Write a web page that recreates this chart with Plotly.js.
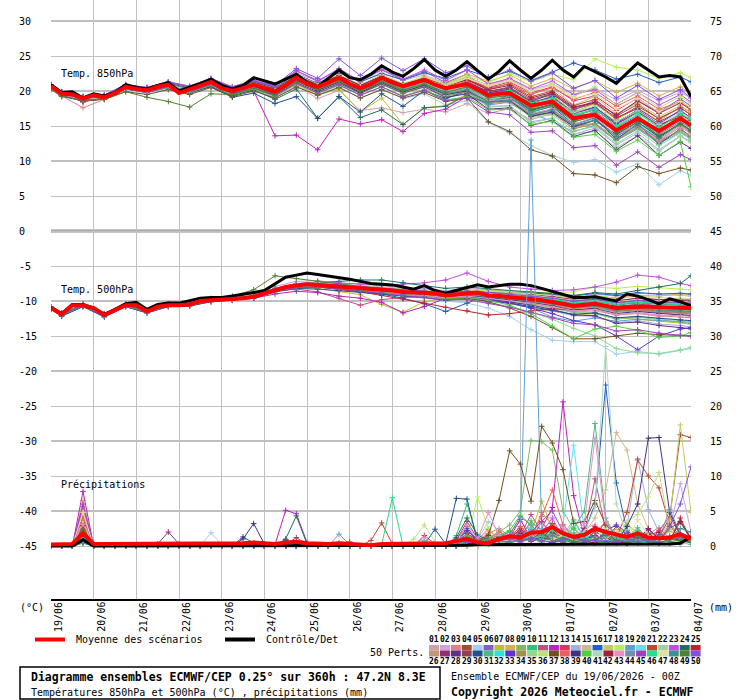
<!DOCTYPE html>
<html><head><meta charset="utf-8">
<script src="https://cdn.plot.ly/plotly-3.0.1.min.js"></script>
<style>html,body{margin:0;padding:0;background:#fff}#chart{width:740px;height:700px}</style>
</head><body><div id="chart"></div>
<script>
// ---------------- DATA ----------------
const dateLabels = ['19/06','20/06','21/06','22/06','23/06','24/06','25/06','26/06','27/06','28/06','29/06','30/06','01/07','02/07','03/07','04/07'];
const dateHours = [0,24,48,72,96,120,144,168,192,216,240,264,288,312,336,360];
const leftTicks = ['-45','-40','-35','-30','-25','-20','-15','-10','-5','0','5','10','15','20','25','30'];
const rightTicks = ['0','5','10','15','20','25','30','35','40','45','50','55','60','65','70','75'];
// member temperature steps (06Z / 18Z) and 6-hourly steps
const tT = [0,6,18,30,42,54,66,78,90,102,114,126,138,150,162,174,186,198,210,222,234,246,258,270,282,294,306,318,330,342,354,360];
const tP = [0,6,12,18,24,30,36,42,48,54,60,66,72,78,84,90,96,102,108,114,120,126,132,138,144,150,156,162,168,174,180,186,192,198,204,210,216,222,228,234,240,246,252,258,264,270,276,282,288,294,300,306,312,318,324,330,336,342,348,354,360];
const memberColors = ['#d4a0a8','#d0a0e0','#e08088','#a05030','#a0d0f0','#8060c0','#c0c020','#d8b050','#80b868','#30c080','#c05080','#c020c0','#e03060','#a0b0e0','#d0b888','#2060c0','#c8c860','#b8f050','#60a0d8','#60e0f0','#c04830','#a0d0a0','#c050e0','#207060','#c02030',
'#c09878','#903070','#603080','#904050','#205090','#50b888','#30e0e0','#6030d0','#a09050','#90d890','#c0e080','#705020','#e86060','#403080','#50d040','#b0d8c0','#a02040','#e890c8','#7090b0','#a040c0','#20e090','#e0e0a0','#409090','#508030','#8050e0'];

const mean850 = [20.7,19.6,19.5,18.9, 19.4,19.1,19.7,20.6, 20.3,20.1,20.6,20.9, 19.7,20.2,20.8,21.3, 20.4,20.0,20.4,20.9, 20.4,19.9,20.8,21.9, 21.0,20.6,21.2,21.9, 21.0,20.4,21.0,21.9, 21.2,20.7,21.1,21.6, 20.9,20.4,20.7,21.0, 20.2,19.4,19.6,19.7, 18.8,17.9,18.2,18.5, 17.3,16.1,16.4,16.6, 15.5,14.4,15.2,16.1, 15.2,14.3,15.2,16.1, 15.1];
const ctrl850 = [20.9,19.8,19.9,19.0, 19.6,19.3,19.8,20.9, 20.5,20.3,20.8,21.2, 20.0,20.5,21.1,21.7, 20.8,20.3,20.8,21.9, 21.4,21.0,21.7,22.4, 21.2,20.6,21.8,23.0, 21.9,21.6,22.4,23.6, 22.7,22.1,23.2,24.5, 23.0,22.1,23.0,24.2, 22.9,21.7,22.8,24.3, 23.0,21.8,23.0,24.4, 23.0,22.0,23.5,22.8, 22.0,21.1,22.5,24.0, 23.0,22.0,22.2,22.0, 19.2];
const mean500 = [-11.0,-11.9,-10.6,-10.6, -11.0,-12.0,-11.3,-10.6, -10.6,-11.5,-10.8,-10.6, -10.6,-10.5,-10.0,-9.9, -9.9,-9.7,-9.6,-9.4, -8.9,-8.4,-8.0,-7.8, -7.6,-7.7,-7.8,-7.9, -8.0,-8.2,-8.3,-8.4, -8.5,-8.7,-8.8,-8.8, -8.9,-9.2,-9.0,-8.9, -8.8,-9.2,-9.3,-9.4, -9.5,-9.7,-9.9,-10.1, -10.4,-10.7,-10.5,-10.4, -10.7,-11.0,-10.9,-10.8, -10.8,-10.9,-10.9,-11.0, -11.0];
const ctrl500 = [-10.9,-11.8,-10.5,-10.5, -11.0,-11.9,-11.2,-10.4, -10.2,-11.2,-10.5,-10.3, -10.3,-10.0,-9.6,-9.5, -9.5,-9.3,-9.1,-8.8, -8.5,-7.5,-6.6,-6.3, -6.0,-6.2,-6.4,-6.6, -6.9,-7.2,-7.5,-7.6, -7.7,-8.0,-8.3,-7.8, -8.5,-8.9,-8.5,-8.0, -7.7,-8.0,-7.8,-7.6, -7.6,-7.8,-8.2,-8.6, -9.1,-9.5,-9.5,-9.4, -9.7,-10.0,-9.0,-9.3, -9.8,-10.4,-9.7,-10.1, -10.7];
const meanPr = [0.2,0.2,0.3,1.8, 0.3,0.3,0.3,0.3, 0.3,0.3,0.3,0.4, 0.3,0.3,0.3,0.4, 0.3,0.3,0.4,0.5, 0.4,0.3,0.5,0.6, 0.4,0.3,0.3,0.4, 0.3,0.2,0.1,0.3, 0.3,0.3,0.3,0.4, 0.4,0.4,0.7,1.0, 0.5,0.4,1.0,1.4, 1.2,1.9,2.0,2.7, 1.8,1.3,1.6,2.5, 2.0,1.6,1.3,1.8, 1.2,1.1,1.2,1.7, 1.0];
const ctrlPr = [0,0,0,0.9, 0,0,0,0, 0,0,0,0, 0,0,0,0, 0,0,0,0, 0,0,0,0, 0.1,0.1,0.1,0.1, 0.1,0.1,0.1,0.1, 0.1,0.1,0.1,0.1, 0.1,0.1,0.1,0.1, 0.2,0.2,0.2,0.2, 0.2,0.2,0.2,0.2, 0.2,0.2,0.2,0.2, 0.2,0.2,0.2,0.2, 0.2,0.2,0.3,0.4, 1.3];

const t850 = [
[20.8,19.5,18.7,19.0,20.4,19.9,20.6,19.8,20.9,19.4,20.3, 19.0,20.8,18.9,20.1,17.2,17.6,16.9,17.4,17.0,18.2, 16.8,17.5,15.9,16.8,14.6,15.9,13.2,15.0,12.8,14.9,14.0],
[20.9,19.8,19.1,19.4,20.9,20.5,21.3,20.7,21.8,20.6,21.6, 20.8,22.6,21.4,22.7,21.3,22.6,21.5,22.3,21.1,21.9, 20.9,21.6,20.2,21.0,19.5,20.4,18.7,20.1,18.6,19.8,19.0],
[20.5,19.3,17.6,18.8,20.2,19.8,20.7,20.0,21.0,19.8,20.8, 19.6,21.5,20.2,21.4,19.9,21.2,20.0,20.8,19.5,20.1, 18.6,18.3,16.4,17.0,14.9,15.3,13.0,14.6,12.9,14.2,13.4],
[20.6,19.7,18.4,19.2,20.7,20.2,21.0,20.3,21.4,20.1,21.1, 20.0,22.1,20.7,22.0,20.6,22.1,20.9,21.8,20.6,21.3, 19.9,20.5,18.8,19.6,17.4,18.2,16.0,17.8,16.1,17.6,16.6],
[20.4,19.2,18.6,18.8,20.1,19.7,20.4,19.6,20.8,19.3,20.2, 19.0,20.7,19.5,20.6,19.0,20.3,18.9,19.6,18.0,18.6, 15.5,14.0,12.2,10.8,9.8,10.2,8.4,9.6,6.6,8.6,8.0],
[20.7,19.9,19.0,19.3,20.8,20.4,21.2,20.6,21.7,20.5,21.5, 20.6,22.9,21.4,23.2,21.4,23.0,21.6,22.8,21.2,22.4, 19.9,20.6,18.4,19.8,17.2,18.7,16.5,18.6,17.0,18.9,17.8],
[20.6,19.5,18.8,19.0,20.5,20.0,20.8,20.0,21.1,19.8,20.6, 19.3,21.0,19.4,20.3,17.0,19.0,15.2,17.6,17.9,19.6, 18.8,19.9,18.1,19.4,17.0,18.2,15.9,17.6,15.7,17.8,16.9],
[20.8,19.7,19.0,19.2,20.6,20.2,21.0,20.4,21.5,20.3,21.2, 20.2,22.2,21.0,22.3,20.9,22.2,21.0,21.9,21.0,22.4, 21.4,22.3,20.7,21.8,20.3,21.5,19.8,21.1,19.3,20.6,19.6],
[20.7,19.6,18.9,19.1,20.5,20.0,20.8,20.1,21.2,19.9,20.7, 19.7,21.6,20.3,21.5,20.0,21.4,20.2,21.0,19.7,20.2, 18.3,18.6,16.5,17.2,15.0,15.4,13.3,14.8,12.6,14.4,12.9],
[20.6,19.5,18.8,19.0,20.6,20.2,21.0,20.3,21.4,20.2,21.1, 20.1,22.0,20.8,22.1,20.7,22.0,20.8,21.7,20.5,21.2, 19.6,20.2,17.7,18.9,16.2,17.5,15.2,17.0,14.9,16.6,15.8],
[20.8,19.7,19.0,19.2,20.7,20.3,21.1,20.4,21.5,20.1,21.0, 20.0,21.9,20.4,21.7,20.2,21.6,20.4,21.3,20.2,20.9, 19.1,19.3,17.3,18.1,15.8,16.7,14.2,16.2,13.8,15.6,14.7],
[20.6,19.4,18.5,18.9,20.3,19.8,20.6,19.8,20.9,19.7,20.0, 13.6,13.7,11.6,16.0,15.3,15.9,14.2,16.8,17.4,19.2, 18.1,19.0,17.3,18.2,16.0,17.1,14.8,16.5,14.2,16.0,15.3],
[20.9,19.8,19.2,19.3,20.8,20.4,21.2,20.5,21.6,20.4,21.3, 20.3,22.3,20.9,22.2,20.6,22.1,20.8,21.8,20.7,21.7, 20.5,21.3,19.7,20.6,18.6,19.3,17.2,19.0,16.9,18.6,17.5],
[20.5,19.4,18.7,19.0,20.4,19.9,20.7,20.0,21.0,19.8,20.6, 19.7,21.5,20.2,21.3,19.8,21.1,19.8,20.6,19.3,19.8, 17.8,17.9,15.6,16.1,13.8,14.7,12.3,14.0,11.6,13.6,12.8],
[20.7,19.6,18.9,19.2,20.6,20.1,20.9,20.2,21.3,20.0,20.9, 19.9,21.8,20.6,21.9,20.5,22.0,20.9,22.0,21.0,22.0, 20.6,21.9,19.6,20.4,18.0,19.2,16.7,18.3,16.3,17.9,17.0],
[20.9,19.9,19.2,19.4,20.9,20.5,21.3,20.6,21.7,20.5,21.4, 20.5,22.4,21.1,22.6,21.3,22.5,21.6,22.6,21.8,23.0, 22.0,22.8,21.5,22.7,24.0,23.0,21.7,22.4,21.2,22.0,21.3],
[20.6,19.5,18.8,19.1,20.5,20.0,20.8,20.2,21.2,20.0,20.9, 19.8,21.7,20.5,21.6,20.2,21.5,20.4,21.2,20.0,20.6, 19.0,19.5,17.6,18.3,16.3,17.0,14.7,16.4,14.5,16.5,15.6],
[20.8,19.7,19.0,19.3,20.7,20.3,21.1,20.5,21.5,20.3,21.2, 20.2,22.1,20.9,22.2,20.8,22.3,21.0,22.1,20.9,22.1, 21.2,22.5,21.3,22.4,21.6,24.6,23.4,23.0,21.8,22.6,21.9],
[20.6,19.5,18.8,19.0,20.4,19.9,20.7,20.0,21.0,19.7,20.6, 19.6,21.4,20.1,21.3,19.9,21.2,19.8,20.8,19.3,19.9, 18.0,18.4,16.9,15.6,14.2,15.1,12.9,14.6,12.5,14.1,13.2],
[20.7,19.6,18.9,19.1,20.6,20.1,20.9,20.2,21.3,20.0,20.9, 19.9,21.8,20.4,21.7,20.3,21.6,20.4,21.2,19.9,20.5, 18.9,19.1,16.9,17.8,15.3,16.0,13.6,15.4,13.3,15.6,14.4],
[20.8,19.7,19.1,19.3,20.8,20.4,21.2,20.5,21.6,20.4,21.3, 20.3,22.3,20.9,22.2,20.8,22.2,21.0,21.9,20.8,21.6, 20.4,21.0,19.2,20.0,17.9,18.8,16.4,18.1,16.0,17.6,16.6],
[20.5,19.4,18.7,19.0,20.3,19.8,20.6,19.9,20.9,19.6,20.4, 19.4,21.2,19.9,21.0,19.6,20.9,19.6,20.5,19.0,19.7, 17.7,17.9,15.4,16.1,13.9,14.2,11.9,13.6,11.4,13.5,12.6],
[20.9,19.8,19.2,19.4,20.9,20.5,21.3,20.7,21.8,20.6,21.5, 20.7,22.9,21.5,23.0,21.4,23.1,21.7,23.0,21.5,23.0, 21.0,21.8,20.3,21.4,19.5,20.2,18.1,19.8,18.0,19.5,18.4],
[20.6,19.5,18.7,19.0,20.3,19.8,20.5,19.7,20.7,19.3,20.2, 18.8,20.3,16.1,19.2,16.2,17.3,15.2,17.6,17.8,19.4, 18.2,19.5,17.2,18.0,15.9,16.7,14.0,15.9,13.6,15.2,14.1],
[20.7,19.6,19.0,19.2,20.7,20.3,21.1,20.4,21.5,20.2,21.2, 20.1,22.1,20.8,22.1,20.6,21.9,20.6,21.5,20.3,20.9, 19.3,19.8,17.9,18.6,16.5,17.3,15.3,17.0,15.2,16.3,15.2],
[20.6,19.5,18.8,19.1,20.5,20.0,20.8,20.1,21.2,19.9,20.8, 19.8,21.6,20.3,21.5,20.1,21.5,20.3,21.1,19.8,20.4, 18.6,18.9,16.8,17.4,15.0,15.9,13.7,15.3,13.0,15.1,14.2],
[20.8,19.7,19.0,19.2,20.7,20.2,21.0,20.3,21.4,20.1,21.0, 20.0,21.9,20.6,21.8,20.4,21.7,20.5,21.4,20.2,21.1, 19.7,20.3,18.6,19.5,17.6,18.3,16.2,17.5,15.6,17.1,16.2],
[20.5,19.4,18.6,18.9,20.3,19.8,20.6,19.9,20.9,19.6,20.4, 19.4,21.2,19.9,21.1,19.7,21.0,19.7,20.6,19.1,19.6, 17.4,17.6,15.1,15.8,13.5,14.4,11.6,13.6,10.8,12.7,11.8],
[20.7,19.6,18.9,19.1,20.6,20.1,20.9,20.2,21.3,20.0,20.9, 19.9,21.8,20.5,21.8,20.4,21.8,20.7,21.5,20.3,21.2, 20.0,20.4,18.4,19.1,16.8,17.6,15.6,17.2,15.0,16.7,15.8],
[20.8,19.7,19.1,19.3,20.7,20.0,20.7,19.8,20.6,19.1,19.7, 18.2,19.2,16.1,19.2,17.0,19.6,17.8,20.1,18.9,20.0, 18.5,19.1,17.0,17.8,15.2,16.2,13.1,15.3,12.4,14.6,13.5],
[20.6,19.5,18.9,19.1,20.6,20.1,20.9,20.2,21.2,20.0,20.9, 19.8,21.7,20.3,21.6,20.2,21.5,20.3,21.1,19.8,20.4, 18.7,19.2,17.0,17.9,15.6,16.5,14.1,15.8,13.9,15.9,15.0],
[20.7,19.6,19.0,19.2,20.7,20.2,21.0,20.3,21.4,20.1,21.0, 20.0,21.9,20.6,21.9,20.5,21.9,20.6,21.6,20.4,21.2, 19.5,19.9,17.8,18.7,16.4,17.4,15.0,16.6,14.4,16.2,15.3],
[20.8,19.8,19.1,19.3,20.8,20.3,21.1,20.4,21.5,20.3,21.2, 20.2,22.2,20.9,22.2,20.7,22.0,20.7,21.7,20.4,21.3, 19.8,20.1,18.2,19.2,16.9,17.7,15.4,17.3,15.3,17.3,16.1],
[20.5,19.4,18.7,19.0,20.4,19.9,20.7,20.0,21.0,19.8,20.6, 19.6,21.4,20.1,21.2,19.8,21.1,19.8,20.7,19.3,19.9, 18.2,18.5,16.3,16.9,14.6,15.3,13.0,14.8,12.7,14.5,13.5],
[20.6,19.5,18.8,19.0,20.5,20.0,20.8,20.1,21.2,19.9,20.7, 19.7,21.6,20.2,21.4,19.9,21.2,19.9,20.8,19.4,20.0, 18.4,18.5,16.2,16.6,14.3,14.9,12.5,14.3,12.2,14.0,13.1],
[20.8,19.7,19.0,19.3,20.8,20.3,21.1,20.5,21.6,20.4,21.3, 20.3,22.3,21.0,22.3,20.9,22.3,21.1,22.0,20.9,21.8, 20.7,21.4,19.9,21.0,19.2,20.6,18.0,19.9,17.6,19.2,18.2],
[20.4,19.3,18.6,18.8,19.9,19.5,20.2,19.5,20.5,19.2,20.0, 19.0,20.6,19.4,20.5,19.0,20.2,19.0,19.8,18.5,19.0, 15.6,14.2,11.6,10.7,8.2,8.0,6.9,9.2,8.2,9.0,8.7],
[20.7,19.6,18.9,19.2,20.6,20.1,20.9,20.2,21.3,20.1,21.0, 20.0,21.9,20.5,21.8,20.4,21.8,20.6,21.5,20.5,21.4, 20.2,21.1,19.5,20.5,18.8,19.8,17.8,19.3,17.4,18.4,17.5],
[20.6,19.5,18.8,19.0,20.4,19.9,20.7,20.0,21.1,19.8,20.7, 19.6,21.5,20.1,21.3,19.8,21.2,19.9,20.8,19.5,20.0, 18.5,18.6,16.4,17.0,14.9,15.8,13.8,15.6,13.4,15.4,14.3],
[20.5,19.4,18.7,18.9,20.3,19.8,20.5,19.8,20.8,19.5,20.3, 19.2,21.0,19.7,20.8,19.4,20.6,19.3,20.2,18.7,19.2, 17.3,17.4,15.2,15.7,13.4,13.8,11.4,13.0,10.8,12.8,6.3],
[20.7,19.6,18.9,19.1,20.6,20.1,20.9,20.2,21.2,20.0,20.9, 19.9,21.8,20.5,21.7,20.3,21.7,20.5,21.4,20.2,21.0, 19.4,19.8,18.0,18.9,16.9,17.9,15.6,17.2,15.2,17.0,16.1],
[20.8,19.7,19.0,19.3,20.7,20.3,21.1,20.4,21.5,20.3,21.3, 20.3,22.2,20.9,22.2,20.8,22.1,20.9,21.8,20.7,21.6, 20.2,20.8,19.0,19.8,17.7,18.4,16.6,18.6,16.8,18.3,17.3],
[20.6,19.5,18.8,19.1,20.5,20.0,20.8,20.1,21.2,20.0,20.8, 19.8,21.7,20.3,21.5,20.1,21.4,20.2,21.0,19.7,20.3, 18.6,18.9,16.6,17.5,15.2,16.3,13.6,15.1,12.9,14.8,13.9],
[20.7,19.6,18.9,19.1,20.6,20.1,20.9,20.2,21.3,20.0,20.9, 19.9,21.8,20.5,21.8,20.4,21.7,20.5,21.4,20.1,20.8, 19.2,19.6,17.5,18.4,16.1,16.9,14.5,16.3,14.0,16.0,15.1],
[20.5,19.4,18.6,18.9,20.3,19.8,20.6,19.9,20.9,19.6,20.4, 19.3,21.1,19.7,20.9,19.4,20.6,19.2,20.1,18.6,19.0, 17.0,16.6,14.1,14.3,11.9,12.2,9.4,11.3,9.1,10.9,10.2],
[20.8,19.7,19.0,19.2,20.7,20.2,21.0,20.3,21.4,20.2,21.1, 20.1,22.0,20.7,21.9,20.5,21.9,20.6,21.6,20.3,21.0, 19.6,20.1,18.3,19.0,16.6,17.4,15.0,16.9,14.7,16.8,15.9],
[20.6,19.5,18.9,19.1,20.6,20.1,20.9,20.2,21.3,20.1,21.0, 20.0,22.0,20.7,22.0,20.6,21.9,20.7,21.7,20.7,21.8, 20.8,21.5,20.0,20.8,19.0,19.6,17.4,18.9,17.0,18.5,17.6],
[20.7,19.6,18.9,19.2,20.7,20.2,21.0,20.3,21.3,20.1,21.0, 19.9,21.8,20.4,21.6,20.1,21.4,20.2,21.0,19.6,20.2, 18.4,18.7,16.6,17.3,15.1,15.8,13.5,15.1,13.2,15.3,14.4],
[20.2,19.2,18.7,18.8,19.9,19.1,18.5,17.7,19.6,19.5,20.4, 19.5,21.4,20.2,21.4,20.0,21.3,20.1,21.0,19.8,20.6, 19.0,19.4,17.4,18.0,15.6,16.4,14.0,15.5,13.6,15.3,14.4],
[20.9,19.8,19.1,19.4,20.9,20.4,21.2,20.6,21.6,20.5,21.4, 20.8,23.2,21.8,24.6,22.2,24.7,22.9,24.6,22.6,23.6, 21.8,23.0,21.4,22.6,20.4,21.5,19.0,20.8,18.8,20.2,19.0]
];

const t500 = [
[-11.0,-11.8,-10.5,-11.9,-10.5,-11.4,-10.5,-10.4,-9.8,-9.6,-9.2, -8.2,-7.9,-8.0,-8.3,-8.6,-8.9,-9.2,-9.4,-9.6,-9.4, -9.8,-10.1,-10.5,-11.0,-11.6,-11.4,-12.0,-11.8,-12.2,-12.0,-12.1],
[-11.0,-11.9,-10.4,-11.8,-10.4,-11.3,-10.4,-10.3,-9.6,-9.4,-9.0, -7.9,-7.2,-7.1,-7.4,-7.6,-7.8,-8.0,-8.2,-8.5,-8.2, -8.4,-8.5,-8.8,-9.1,-9.6,-9.0,-9.3,-8.9,-9.1,-9.2,-9.3],
[-11.1,-12.0,-10.7,-12.1,-10.7,-11.6,-10.7,-10.6,-10.0,-9.8,-9.5, -8.6,-8.0,-7.9,-8.1,-8.4,-8.6,-8.9,-9.1,-9.5,-9.3, -9.7,-10.0,-10.4,-10.9,-11.5,-11.2,-12.0,-11.7,-12.1,-12.3,-12.4],
[-10.9,-11.8,-10.6,-11.9,-10.6,-11.4,-10.6,-10.5,-9.9,-9.7,-9.4, -8.4,-7.8,-7.6,-7.8,-8.0,-8.2,-8.5,-8.6,-9.0,-8.7, -9.0,-9.2,-9.5,-9.8,-10.2,-9.9,-10.4,-10.1,-10.2,-10.3,-10.4],
[-11.0,-11.9,-10.6,-12.0,-10.6,-11.5,-10.6,-10.5,-9.9,-9.8,-9.5, -8.6,-8.1,-8.0,-8.3,-8.6,-8.9,-9.3,-9.6,-10.0,-10.3, -11.0,-12.2,-14.1,-15.6,-15.8,-15.8,-17.6,-17.2,-17.6,-17.0,-16.8],
[-11.0,-11.9,-10.5,-11.9,-10.5,-11.4,-10.5,-10.4,-9.8,-9.6,-9.3, -8.3,-7.6,-7.4,-7.6,-7.9,-8.1,-8.3,-8.4,-8.7,-8.5, -8.6,-8.8,-9.0,-9.4,-9.8,-9.5,-10.0,-9.6,-9.8,-9.7,-9.8],
[-11.1,-12.0,-10.7,-12.1,-10.7,-11.6,-10.7,-10.6,-10.0,-9.8,-9.5, -8.5,-8.0,-8.2,-8.6,-9.1,-10.5,-11.6,-10.1,-9.6,-9.6, -9.9,-10.4,-10.9,-11.4,-12.0,-11.8,-12.4,-12.6,-12.9,-13.1,-13.3],
[-10.9,-11.8,-10.5,-11.9,-10.5,-11.4,-10.5,-10.4,-9.8,-9.6,-9.3, -8.2,-7.6,-7.5,-7.8,-8.1,-8.3,-8.5,-8.6,-8.8,-8.4, -8.5,-8.6,-8.9,-9.2,-9.6,-9.2,-9.6,-9.2,-9.3,-9.0,-9.1],
[-11.0,-11.9,-10.6,-12.0,-10.6,-11.5,-10.6,-10.5,-9.9,-9.7,-9.4, -8.5,-7.9,-7.8,-8.0,-8.3,-8.5,-8.8,-8.9,-9.3,-9.1, -9.5,-9.8,-10.3,-10.9,-11.6,-11.8,-12.6,-12.3,-12.7,-13.0,-13.2],
[-11.0,-11.9,-10.6,-12.0,-10.6,-11.5,-10.6,-10.5,-9.9,-9.7,-9.4, -8.4,-7.7,-7.6,-7.8,-8.1,-8.3,-8.6,-8.7,-9.1,-8.9, -9.1,-9.3,-9.5,-9.9,-10.4,-10.0,-10.6,-10.3,-10.5,-10.6,-10.7],
[-11.0,-11.9,-10.6,-12.0,-10.6,-11.5,-10.6,-10.5,-9.9,-9.7,-9.4, -8.6,-8.3,-8.7,-9.6,-10.6,-9.8,-9.5,-9.4,-9.6,-9.4, -9.7,-9.9,-10.2,-10.6,-11.1,-10.8,-11.5,-11.3,-11.6,-11.7,-11.8],
[-11.0,-11.9,-10.6,-12.0,-10.6,-11.5,-10.6,-10.5,-9.9,-9.8,-9.6, -9.0,-8.6,-8.8,-9.3,-9.6,-10.2,-11.7,-10.8,-9.6,-9.0, -9.3,-9.5,-9.8,-10.1,-10.6,-10.3,-10.8,-10.5,-10.7,-10.9,-11.0],
[-10.9,-11.8,-10.5,-11.9,-10.5,-11.4,-10.5,-10.4,-9.8,-9.6,-9.3, -8.3,-7.7,-7.5,-7.7,-8.0,-8.2,-8.4,-8.6,-8.9,-8.6, -8.8,-9.0,-9.3,-9.6,-10.0,-9.7,-10.2,-9.9,-10.0,-10.1,-10.2],
[-11.1,-12.0,-10.7,-12.1,-10.7,-11.6,-10.7,-10.6,-10.0,-9.9,-9.6, -8.7,-8.1,-8.0,-8.2,-8.5,-8.7,-9.0,-9.2,-9.6,-9.5, -9.9,-10.3,-10.8,-11.4,-12.1,-12.2,-13.1,-12.8,-13.3,-13.5,-13.7],
[-11.0,-11.9,-10.6,-12.0,-10.6,-11.5,-10.6,-10.5,-9.9,-9.7,-9.4, -8.4,-7.8,-7.7,-7.9,-8.2,-8.4,-8.6,-8.7,-9.0,-8.7, -8.9,-9.0,-9.2,-9.5,-9.9,-9.6,-10.1,-9.8,-9.9,-10.0,-10.1],
[-11.2,-12.2,-10.8,-12.3,-10.8,-11.7,-10.8,-10.7,-10.1,-9.9,-9.6, -8.6,-8.0,-7.9,-8.2,-8.6,-9.0,-9.6,-10.4,-11.5,-10.3, -9.2,-8.6,-8.8,-9.0,-9.3,-8.9,-9.2,-8.8,-9.0,-8.9,-9.0],
[-11.0,-11.9,-10.6,-12.0,-10.6,-11.5,-10.6,-10.5,-9.9,-9.7,-9.4, -8.4,-7.8,-7.7,-7.9,-8.2,-8.4,-8.7,-8.8,-9.2,-8.9, -9.2,-9.4,-9.7,-10.1,-10.7,-10.4,-11.0,-10.8,-11.0,-11.1,-11.2],
[-10.9,-11.8,-10.5,-11.9,-10.5,-11.4,-10.5,-10.4,-9.8,-9.6,-9.3, -8.3,-7.7,-7.6,-7.8,-8.1,-8.3,-8.5,-8.6,-8.8,-8.5, -8.6,-8.6,-8.7,-8.8,-8.7,-8.0,-8.2,-7.9,-8.1,-8.3,-8.4],
[-11.0,-11.9,-10.6,-12.0,-10.6,-11.5,-10.6,-10.5,-9.9,-9.7,-9.4, -8.5,-7.9,-7.8,-8.0,-8.3,-8.6,-8.9,-9.1,-9.5,-9.4, -9.8,-10.2,-11.0,-12.3,-12.9,-12.4,-12.9,-12.6,-12.8,-12.9,-13.0],
[-11.0,-11.9,-10.6,-12.0,-10.6,-11.5,-10.6,-10.5,-9.9,-9.7,-9.4, -8.4,-7.8,-7.7,-7.9,-8.2,-8.4,-8.7,-8.8,-9.2,-8.9, -9.3,-9.5,-9.9,-10.3,-10.9,-10.6,-11.9,-11.2,-11.4,-11.6,-11.7],
[-10.9,-11.8,-10.5,-11.9,-10.5,-11.4,-10.5,-10.4,-9.8,-9.6,-9.3, -8.3,-7.7,-7.6,-7.8,-8.1,-8.3,-8.5,-8.7,-9.0,-8.7, -8.9,-9.1,-9.3,-9.6,-10.1,-9.8,-10.3,-10.0,-10.2,-10.3,-10.4],
[-11.1,-12.0,-10.7,-12.1,-10.7,-11.6,-10.7,-10.6,-10.0,-9.8,-9.5, -8.6,-8.0,-7.9,-8.1,-8.4,-8.6,-8.9,-9.1,-9.5,-9.3, -9.7,-10.0,-10.5,-11.0,-11.7,-11.6,-12.5,-12.2,-12.6,-12.8,-12.9],
[-10.9,-11.8,-10.5,-11.9,-10.5,-11.4,-10.5,-10.4,-9.8,-9.6,-9.3, -8.2,-7.5,-7.3,-7.4,-7.6,-7.7,-7.6,-7.4,-7.0,-6.0, -7.2,-8.0,-8.3,-8.5,-8.4,-8.0,-7.3,-6.3,-6.6,-7.5,-7.8],
[-11.0,-11.9,-10.6,-12.0,-10.6,-11.5,-10.6,-10.5,-9.9,-9.7,-9.3, -8.2,-7.6,-7.4,-7.2,-7.0,-7.0,-7.4,-7.8,-8.2,-8.0, -8.3,-8.5,-8.7,-8.9,-9.2,-8.8,-9.0,-8.5,-8.0,-7.5,-6.4],
[-11.0,-11.9,-10.6,-12.0,-10.6,-11.5,-10.6,-10.5,-9.9,-9.7,-9.4, -8.5,-8.0,-8.0,-8.3,-8.7,-9.2,-9.7,-10.3,-10.9,-11.4, -12.0,-11.8,-11.4,-11.1,-11.3,-11.0,-11.4,-11.2,-11.4,-11.6,-11.5],
[-11.0,-11.9,-10.6,-12.0,-10.6,-11.5,-10.6,-10.5,-9.9,-9.7,-9.4, -8.5,-7.9,-7.8,-8.0,-8.3,-8.5,-8.8,-8.9,-9.3,-9.1, -9.4,-9.7,-10.1,-10.5,-11.1,-10.9,-11.6,-11.4,-11.7,-11.9,-12.0],
[-10.9,-11.8,-10.5,-11.9,-10.5,-11.4,-10.5,-10.4,-9.8,-9.6,-9.3, -8.3,-7.7,-7.6,-7.8,-8.1,-8.3,-8.5,-8.7,-9.0,-8.7, -9.0,-9.2,-9.5,-9.8,-10.3,-10.0,-10.5,-10.2,-10.4,-10.5,-10.6],
[-11.1,-12.0,-10.7,-12.1,-10.7,-11.6,-10.7,-10.6,-10.0,-9.8,-9.5, -8.6,-8.0,-7.9,-8.1,-8.4,-8.6,-8.9,-9.1,-9.5,-9.3, -9.7,-10.1,-10.6,-11.2,-12.0,-12.1,-13.2,-13.0,-13.5,-13.8,-14.0],
[-11.0,-11.9,-10.6,-12.0,-10.6,-11.5,-10.6,-10.5,-9.9,-9.7,-9.4, -8.4,-7.8,-7.7,-7.9,-8.2,-8.4,-8.6,-8.8,-9.1,-8.8, -9.1,-9.3,-9.6,-10.0,-10.5,-10.2,-10.8,-10.5,-10.7,-10.9,-11.0],
[-11.1,-12.1,-10.8,-12.2,-10.8,-11.7,-10.8,-10.7,-10.1,-9.9,-9.6, -8.7,-8.2,-8.3,-8.5,-8.8,-9.0,-9.3,-9.5,-9.9,-9.7, -10.0,-10.3,-10.8,-11.3,-11.9,-11.7,-12.4,-12.2,-12.5,-12.7,-12.8],
[-11.0,-11.9,-10.6,-12.0,-10.6,-11.5,-10.6,-10.5,-9.9,-9.7,-9.4, -8.4,-7.8,-7.7,-7.9,-8.2,-8.4,-8.7,-8.8,-9.2,-8.9, -9.2,-9.4,-9.7,-10.1,-10.6,-10.3,-10.9,-10.6,-10.8,-10.9,-11.0],
[-10.9,-11.8,-10.5,-11.9,-10.5,-11.4,-10.5,-10.4,-9.8,-9.6,-9.3, -8.3,-7.6,-7.5,-7.7,-8.0,-8.2,-8.4,-8.6,-8.9,-8.6, -8.9,-9.1,-9.4,-9.7,-10.2,-9.9,-10.4,-10.1,-10.3,-10.4,-10.5],
[-11.0,-11.9,-10.6,-12.0,-10.6,-11.5,-10.6,-10.5,-9.9,-9.7,-9.4, -8.5,-7.9,-7.8,-8.0,-8.3,-8.5,-8.8,-9.0,-9.4,-9.3, -9.8,-10.3,-11.0,-11.8,-12.8,-13.4,-15.0,-17.0,-15.0,-14.0,-13.8],
[-11.0,-11.9,-10.6,-12.0,-10.6,-11.5,-10.6,-10.5,-9.9,-9.7,-9.4, -8.4,-7.8,-7.7,-7.9,-8.2,-8.4,-8.7,-8.9,-9.3,-9.1, -9.4,-9.7,-10.0,-10.4,-11.0,-10.8,-11.4,-11.2,-11.4,-11.6,-11.7],
[-11.0,-11.9,-10.6,-12.0,-10.6,-11.5,-10.6,-10.5,-9.9,-9.7,-9.4, -8.5,-8.0,-7.9,-8.1,-8.4,-8.7,-9.0,-9.3,-9.7,-9.7, -10.2,-10.8,-11.6,-12.6,-13.9,-15.0,-16.8,-17.4,-17.5,-17.0,-16.6],
[-10.9,-11.8,-10.5,-11.9,-10.5,-11.4,-10.5,-10.4,-9.8,-9.6,-9.3, -8.2,-7.6,-7.4,-7.6,-7.9,-8.1,-8.3,-8.4,-8.7,-8.4, -8.6,-8.7,-8.9,-9.2,-9.6,-9.2,-9.7,-9.3,-9.5,-9.6,-9.7],
[-11.1,-12.0,-10.7,-12.1,-10.7,-11.6,-10.7,-10.6,-10.0,-9.8,-9.5, -8.6,-8.1,-8.0,-8.2,-8.5,-8.7,-9.0,-9.2,-9.6,-9.6, -10.1,-11.0,-12.2,-13.8,-15.4,-15.4,-15.0,-14.6,-14.8,-14.9,-15.0],
[-10.9,-11.8,-10.5,-11.9,-10.5,-11.4,-10.5,-10.4,-9.8,-9.6,-9.3, -8.3,-7.7,-7.6,-7.8,-8.1,-8.3,-8.6,-8.8,-9.2,-9.0, -9.3,-9.5,-9.8,-10.2,-10.7,-10.5,-11.1,-10.8,-11.0,-11.2,-11.3],
[-11.0,-11.9,-10.6,-12.0,-10.6,-11.5,-10.6,-10.5,-9.9,-9.7,-9.4, -8.5,-7.9,-7.8,-8.0,-8.3,-8.5,-8.8,-9.0,-9.4,-9.2, -9.5,-9.8,-10.2,-10.7,-11.3,-11.1,-11.8,-11.5,-11.8,-12.0,-12.1],
[-11.1,-12.0,-10.7,-12.1,-10.7,-11.6,-10.7,-10.6,-10.0,-9.8,-9.5, -8.5,-8.0,-7.9,-8.1,-8.4,-8.7,-9.0,-9.2,-9.6,-9.5, -9.9,-10.6,-11.8,-13.6,-15.4,-14.0,-13.6,-14.2,-15.2,-15.0,-14.5],
[-11.0,-11.9,-10.6,-12.0,-10.6,-11.5,-10.6,-10.5,-9.9,-9.7,-9.4, -8.4,-7.8,-7.7,-7.9,-8.2,-8.4,-8.7,-8.9,-9.2,-9.0, -9.3,-9.5,-9.9,-10.3,-10.8,-10.5,-11.2,-10.9,-11.1,-11.3,-11.4],
[-10.9,-11.8,-10.5,-11.9,-10.5,-11.4,-10.5,-10.4,-9.8,-9.6,-9.3, -8.3,-7.7,-7.6,-7.8,-8.1,-8.3,-8.5,-8.6,-8.9,-8.6, -8.8,-8.9,-9.1,-9.4,-9.8,-9.5,-10.0,-9.6,-9.8,-9.9,-10.0],
[-11.0,-11.9,-10.6,-12.0,-10.6,-11.5,-10.6,-10.5,-9.9,-9.7,-9.4, -8.5,-7.9,-7.8,-8.0,-8.3,-8.6,-8.9,-9.1,-9.5,-9.3, -9.6,-9.9,-10.3,-10.8,-11.4,-11.2,-11.9,-11.7,-12.0,-12.1,-12.2],
[-11.0,-11.9,-10.6,-12.0,-10.6,-11.5,-10.6,-10.5,-9.9,-9.7,-9.4, -8.4,-7.8,-7.7,-7.9,-8.2,-8.4,-8.7,-8.9,-9.2,-9.0, -9.3,-9.6,-9.9,-10.3,-10.8,-10.6,-11.2,-10.9,-11.1,-11.2,-11.3],
[-11.1,-12.0,-10.7,-12.1,-10.7,-11.6,-10.7,-10.6,-10.0,-9.8,-9.5, -8.6,-8.1,-8.0,-8.3,-8.6,-8.8,-9.1,-9.4,-9.8,-9.8, -10.3,-10.9,-11.6,-12.4,-13.2,-13.4,-14.3,-14.1,-14.6,-14.9,-15.0],
[-10.9,-11.8,-10.5,-11.9,-10.5,-11.4,-10.5,-10.4,-9.8,-9.6,-9.3, -8.3,-7.7,-7.5,-7.7,-8.0,-8.2,-8.5,-8.6,-8.9,-8.7, -8.9,-9.1,-9.4,-9.8,-10.3,-10.0,-10.5,-10.2,-10.4,-10.5,-10.6],
[-11.0,-11.9,-10.6,-12.0,-10.6,-11.5,-10.6,-10.5,-9.9,-9.7,-9.4, -8.4,-7.8,-7.6,-7.8,-8.1,-8.3,-8.6,-8.7,-9.0,-8.7, -8.9,-9.0,-9.2,-9.5,-9.9,-9.6,-10.1,-9.8,-10.0,-10.1,-10.2],
[-11.0,-11.9,-10.6,-12.0,-10.6,-11.5,-10.6,-10.5,-9.9,-9.7,-9.4, -8.5,-7.9,-7.8,-8.0,-8.3,-8.5,-8.8,-9.0,-9.3,-9.1, -9.4,-9.6,-10.0,-10.4,-10.9,-10.7,-11.3,-11.0,-11.3,-11.4,-11.5],
[-11.0,-11.9,-10.6,-12.0,-10.6,-11.5,-10.6,-10.5,-9.8,-9.3,-8.4, -6.4,-6.8,-7.2,-7.6,-8.0,-8.3,-8.6,-8.8,-9.1,-8.9, -9.2,-9.4,-9.8,-10.2,-10.7,-10.4,-11.0,-10.7,-10.9,-11.1,-11.2],
[-10.9,-11.8,-10.5,-11.9,-10.5,-11.4,-10.5,-10.4,-9.8,-9.6,-9.3, -8.3,-7.7,-7.5,-7.7,-8.0,-8.2,-8.4,-8.6,-8.9,-8.6, -8.8,-9.0,-9.3,-9.6,-10.0,-9.7,-10.2,-9.9,-10.1,-10.2,-10.3]
];

// precipitation (mm / 6h), one group of 4 per day, last value = 04/07 00Z
const prec = [
[0,0,0,0.8, 0.1,0,0,0, 0,0,0,0, 0,0,0,0, 0,0,0,0, 0,0,0,0, 0,0,0,0, 0,0,0,0, 0,0,0,0, 0,0,0.3,0.8, 0.5,0.3,1.2,2.0, 3.5,2.0,1.5,1.2, 2.4,1.0,0.8,1.5, 0.6,0.4,1.8,1.0, 0.5,0.8,0.4,1.2, 0.6],
[0,0,0,1.2, 0,0,0,0, 0,0,0,0, 0,0,0,0, 0,0,0,0, 0,0,0,0, 0,0,0,0, 0,0,0,0, 0,0,0,0, 0,0,0,0.4, 0.2,0.6,1.0,0.7, 1.6,3.2,2.4,1.8, 0.9,1.2,2.6,3.0, 1.4,0.8,0.5,2.2, 1.5,0.6,2.4,8.9, 2.0],
[0,0,0,2.5, 0.2,0,0,0, 0,0,0,0, 0,0,0,0, 0,0,0,0, 0,0,0,0, 0,0,0,0, 0,0,0,0, 0,0,0,0, 0,0,0.5,1.2, 0.8,1.8,2.5,1.4, 0.6,0.9,4.8,3.0, 1.2,0.4,0.6,2.0, 3.4,1.1,0.3,0.7, 1.8,2.6,1.0,0.5, 0.3],
[0,0,0,0.6, 0,0,0,0, 0,0,0,0, 0,0,0,0, 0,0,0,0, 0,0,0,0, 0,0,0,0, 0,0,0,0, 0,0,0,0, 0,0,0,0.5, 0.3,1.6,0.6,0.4, 0.9,2.2,1.3,0.5, 0.8,1.6,0.6,0.4, 1.0,2.8,1.5,0.9, 0.7,1.3,4.0,15.9, 15.5],
[0,0,0,1.5, 0,0,0,0, 0,0,0,0, 0,0,0,1.9, 0.2,0,0,0, 0,0,0,0, 0,0,0,0, 0,0,0,0, 0,0,0,0, 0,0,0,0.6, 1.0,3.5,2.2,1.0, 2.8,1.4,0.7,1.9, 0.5,0.8,1.4,0.6, 0.3,1.5,0.9,0.4, 0.8,0.5,0.3,0.9, 0.4],
[0,0,0,3.0, 0,0,0,0, 0,0,0,0, 0,0,0,0, 0,0,0,0, 0,0,0,0, 0,0,0,0, 0,0,0,0, 0,0,0,0, 0,0,1.0,2.8, 0.6,0.3,0.8,1.6, 4.2,3.0,1.5,0.8, 2.0,1.3,0.6,0.4, 1.1,2.3,1.7,0.8, 0.4,1.2,0.6,0.9, 0.5],
[0,0,0,5.0, 0,0,0,0, 0,0,0,0, 0,0,0,0, 0,0,0,0, 0,0,0,0, 0,0,0,0, 0,0,0,0, 0,0,0,0, 0,0,0,0.3, 0.2,0.5,0.8,1.5, 2.6,1.8,6.4,2.4, 1.0,0.5,1.3,0.7, 0.4,0.8,3.0,2.0, 1.2,0.6,0.3,0.6, 1.0],
[0,0,0,6.5, 0,0,0,0, 0,0,0,0, 0,0,0,0, 0,0,0,0, 0,0,0,0, 0,0,0,0, 0,0,0,0, 0,0,0,0, 0,0,0,0, 0,0.3,0.6,0.9, 1.4,0.8,1.2,2.8, 1.5,3.8,1.2,0.6, 0.3,0.6,1.5,0.9, 0.4,0.8,2.1,1.4, 0.6],
[0,0,0,2.0, 0,0,0,0, 0,0,0,0, 0,0,0,0, 0,0,0,0, 0,0,0,0, 0,0,0,0, 0,0,0,0, 0,0,0,0, 0,0,0.4,1.5, 0.8,1.2,2.0,3.0, 5.0,15.1,14.9,13.7, 5.0,2.4,1.2,0.8, 1.5,0.6,0.4,2.2, 0.9,0.5,1.0,0.4, 0.3],
[0,0,0,0.9, 0,0,0,0, 0,0,0,0, 0,0,0,0, 0,0,0,0, 0,0,0,0, 0,0,0,0, 0,0,0,0, 0,0,0,0, 0,0,1.5,6.0, 1.2,0.6,1.4,2.0, 1.1,3.6,2.1,0.9, 0.7,1.9,1.2,0.5, 0.8,0.4,1.1,2.6, 1.0,0.4,0.8,1.3, 0.6],
[0,0,0,3.8, 0,0,0,0, 0,0,0,0, 0,0,0,0, 0,0,0,0, 0,0,0.6,0.2, 0,0,0,0, 0,0,0,0, 0,0,0,0, 0,0,0.8,2.2, 0.9,2.4,1.0,0.6, 1.5,4.5,2.0,1.1, 0.8,0.5,1.6,9.6, 2.3,0.8,0.5,0.9, 1.6,0.9,0.5,0.3, 0.5],
[0,0,0,7.8, 0,0,0,0, 0,0,0,0, 0,0,0,0, 0,0,0,0, 0,0.2,5.1,4.6, 0.5,0,0,0, 0,0,0,0, 0,0,0,0, 0,0,0.3,1.2, 0.4,0.9,1.6,1.2, 3.8,1.0,2.5,5.5, 20.6,7.2,1.2,0.8, 0.5,1.5,0.7,0.4, 1.1,0.6,0.4,0.8, 0.5],
[0,0,0,2.2, 0,0,0,0, 0,0,0,0, 0,0,0,0, 0,0,0,0, 0,0,0,0, 0,0,0,0, 0,0,0,0, 0,0,0,1.5, 0.3,0,0.8,3.5, 1.0,0.8,0.5,1.4, 2.2,1.0,3.4,1.8, 0.6,1.4,0.9,2.8, 1.8,0.9,0.6,1.1, 0.4,2.2,4.2,1.6, 0.8],
[0,0,0,1.0, 0,0,0,0, 0,0,0,0, 0,0,0,0, 0,0,0,0, 0,0,0,0, 0,0,0,0, 0,0,0,0, 0,0,0,0, 0,0,0,0.4, 0.2,0.6,0.9,0.5, 1.2,2.6,1.0,0.7, 3.1,1.5,0.7,2.0, 1.3,0.9,2.8,12.5, 5.2,2.0,0.8,0.6, 0.9],
[0,0,0,1.4, 0,0,0,0, 0,0,0,0, 0,0,0,0, 0,0,0,0, 0,0,0,0, 0,0,0,0, 0,0,0,0, 0,0,0,0, 0,0,0,0.6, 0.3,1.0,0.6,0.9, 0.8,1.7,2.5,1.2, 0.6,0.9,1.8,4.0, 8.0,16.2,13.7,6.0, 2.5,1.0,0.7,0.5, 0.3],
[0,0,0,0.5, 0,0,0,0, 0,0,0,0, 0,0,0,0, 0,0,0,0, 0,0,0.9,0.2, 0,0,0,0, 0,0,0,0, 0,0,0,0, 0,0,0.6,2.5, 0.4,0.8,0.5,1.2, 0.8,2.4,1.5,0.6, 1.0,0.5,2.0,6.0, 23.0,9.0,2.2,1.0, 0.6,0.4,1.2,0.8, 0.3],
[0,0,0,4.5, 0,0,0,0, 0,0,0,0, 0,0,0,0, 0,0,0,0, 0,0,0,0, 0,0,0,0, 0,0,0,0, 0,0,0,0, 0,0,0,0, 0,0.4,0.8,0.5, 1.5,0.9,0.6,1.2, 0.5,1.8,0.9,0.6, 0.4,0.8,1.5,1.0, 0.6,1.0,3.5,17.3, 4.8],
[0,0,0,1.8, 0,0,0,0, 0,0,0,0, 0,0,0,0, 0,0,0,0, 0,0,0,0, 0,0,0,0, 0,0,0,0, 0,0,0,0, 0,0,0,0.8, 7.0,2.5,1.0,0.6, 0.8,1.4,0.9,0.5, 2.2,1.0,0.6,0.9, 1.6,0.8,3.0,1.2, 0.5,0.9,0.4,0.7, 0.5],
[0,0,0,0.7, 0,0,0,0, 0,0,0,0, 0,0,0,0, 0,0,0,0, 0,0,0,0, 0,0,0,1.7, 0.2,0,0,0, 0,0,0,0, 0,0,0,0.3, 0.2,0.4,0.8,1.5, 2.0,58.0,2.5,1.2, 0.8,0.5,1.6,0.9, 0.6,1.2,0.8,0.5, 0.9,0.4,0.6,0.3, 0.5],
[0,0,0,1.1, 0,0,0,0, 0,0,0,0, 0,0,0,0, 0,0,0,0, 0,0,0,0, 0,0,0,0, 0,0,0,0, 0,0,0,0, 0,0,0,1.0, 0.4,0.8,0.5,1.0, 1.8,0.9,2.4,1.2, 3.0,14.4,2.0,1.0, 0.6,1.0,0.5,0.8, 1.2,0.6,0.4,0.9, 0.4],
[0,0,0,2.8, 0,0,0,0, 0,0,0,0, 0,0,0,0, 0,0,0,0, 0,0,0,0, 0,0,0,0, 0,0,0.8,3.3, 0.3,0,0,0, 0,0,0,0.5, 0.3,0.7,1.1,0.6, 0.9,1.5,0.8,2.0, 1.2,0.6,0.9,1.4, 3.5,1.2,4.8,12.3, 10.0,8.3,3.0,1.0, 0.6],
[0,0,0,0.4, 0,0,0,0, 0,0,0,0, 0,0,0,0, 0,0,0,0, 0,0,0,0, 0,0,0,0, 0,0,0,0, 0,0,0,0, 0,0,0,0, 0,0.3,0.6,0.4, 0.8,1.9,3.2,1.5, 0.6,0.9,0.5,1.2, 0.8,0.4,0.6,0.9, 0.5,0.3,0.8,0.4, 0.3],
[0,0,0,5.6, 0,0,0,0, 0,0,0,0, 0,0,0,0, 0,0,0,0, 0,0,0,0, 0,0,0,0, 0,0,0,0, 0,0,0,0, 0,0,0,0.7, 0.5,0.4,1.0,2.2, 1.4,0.8,1.9,4.0, 1.1,0.7,0.5,0.8, 0.4,0.9,1.3,0.6, 0.8,0.5,1.1,0.9, 0.6],
[0,0,0,1.6, 0,0,0,0, 0,0,0,0, 0,0,0,0, 0,0,0,0, 0,0,1.0,4.3, 0.3,0,0,0, 0,0,0,0, 0,0,0,0, 0,0,1.2,4.0, 1.6,0.8,0.5,1.0, 0.7,1.3,0.6,2.0, 0.9,0.5,1.4,0.8, 0.6,1.0,0.4,0.7, 1.8,0.8,2.5,3.4, 0.9],
[0,0,0,3.3, 0,0,0,0, 0,0,0,0, 0,0,0,0, 0,0,0,0, 0,0,0,0, 0,0,0,0, 0,0,0,0, 0,0,0,0, 0,0,0.4,1.8, 0.8,0.5,1.2,0.9, 1.9,0.7,1.1,2.6, 0.8,1.5,0.6,0.4, 0.9,0.6,1.5,0.8, 2.5,1.0,0.6,4.0, 0.8],
[0,0,0,0.9, 0,0,0,0, 0,0,0,0, 0,0,0,0, 0,0,0,0, 0,0,0,0, 0,0,0,0, 0,0,0,0, 0,0,0,0, 0,0,0,0, 0,0.4,0.7,0.5, 1.0,2.2,0.8,1.6, 0.6,0.9,1.3,0.7, 1.9,0.6,0.4,1.0, 0.6,0.9,0.5,0.7, 0.4],
[0,0,0,1.3, 0,0,0,0, 0,0,0.3,2.0, 0.3,0,0,0, 0,0,0,0, 0,0,0,0, 0,0,0,0, 0,0,0,0, 0,0,0,0, 0,0,0,0.9, 0.4,1.1,0.6,0.9, 2.5,1.2,0.8,3.2, 1.4,0.7,2.5,1.1, 0.5,0.8,1.3,0.6, 0.9,1.6,0.7,1.2, 0.5],
[0,0,0,0.6, 0,0,0,0, 0,0,0,0, 0,0,0,0, 0,0,0,0, 0,0,0,0, 0,0,0,0, 0,0,0,0, 0,0,0,0, 0,0,0,0.4, 0.2,0.6,0.9,0.4, 1.3,0.8,2.0,1.0, 0.7,1.2,0.6,0.9, 1.5,0.7,0.4,1.1, 2.4,1.0,0.6,0.8, 0.4],
[0,0,0,2.6, 0,0,0,0, 0,0,0,0, 0,0,0,0, 0,0,0,0, 0,0,0.2,1.2, 0.2,0,0,0, 0,0,0,0, 0,0,0,0, 0,0,0.5,1.5, 0.7,0.4,0.9,1.3, 0.9,1.8,1.1,0.7, 1.6,0.8,0.5,2.2, 0.9,1.4,0.6,0.4, 0.8,0.5,1.3,0.9, 0.6],
[0,0,0,0.5, 0,0,0,0, 0,0,0,0, 0,0,0,0, 0,0,1.3,0.4, 0,0,0,0, 0,0,0,0, 0,0,0,0, 0,0,0,0.2, 2.4,0.3,6.8,6.7, 0.5,0.8,1.2,0.6, 1.4,0.7,2.2,1.0, 0.6,1.2,0.8,0.5, 1.1,0.6,2.0,0.9, 0.5,0.9,0.4,0.6, 0.3],
[0,0,0,1.2, 0,0,0,0, 0,0,0,0, 0,0,0,0, 0,0,0,0, 0,0,0,0, 0,0,0,0, 0,0,0,0, 0,0,0,0.8, 0,0,0,0.6, 0.3,0.6,1.0,0.7, 1.2,2.0,0.9,1.5, 0.8,2.5,5.0,17.5, 4.0,1.2,0.7,0.5, 0.9,0.6,1.1,0.7, 0.4],
[0,0,0,0.8, 0,0,0,0, 0,0,0,0, 0,0,0,0, 0,0,0,0, 0,0,0,0, 0,0,0,0, 0,0,0,0, 0,0,0,0, 0,0,0,0.5, 0.3,0.5,0.8,1.2, 0.7,2.6,1.4,0.9, 0.6,3.6,1.2,0.8, 1.4,0.5,0.9,0.6, 0.5,1.1,0.7,0.4, 0.3],
[0,0,0,1.7, 0,0,0,0, 0,0,0,0, 0,0,0,0, 0,0,0,0, 0,0,0,0, 0,0,0,0, 0,0,0,0, 0,0,0,0, 0,0,0.4,2.2, 0.9,0.5,1.3,0.8, 1.8,1.0,0.6,1.3, 0.9,1.6,0.8,0.5, 2.2,3.0,1.9,0.8, 0.6,1.0,0.5,0.8, 0.5],
[0,0,0,2.1, 0,0,0,0, 0,0,0,0, 0,0,0,0, 0,0,0,0, 0,0,0,0, 0,0,0,0.5, 0,0,0,0, 0,0,0,0, 0,0,0,0, 0,0.5,0.9,0.6, 1.6,0.8,1.2,3.0, 1.2,0.6,0.9,0.5, 0.8,1.7,0.6,1.0, 0.4,0.7,1.4,0.6, 0.4],
[0,0,0,0.5, 0,0,0,0, 0,0,0,0, 0,0,0,0, 0,0,0,0, 0,0,0,0, 0,0,0,0, 0,0,0,0, 0,0,0,0, 0,0,0,0, 0,0.3,0.5,0.8, 0.6,1.1,0.7,0.9, 1.5,0.8,0.5,1.1, 0.6,0.9,2.4,1.0, 0.5,0.8,0.4,0.6, 0.3],
[0,0,0,3.5, 0,0,0,0, 0,0,0,0, 0,0,0,0, 0,0,0,0, 0,0,0,0, 0,0,0,0, 0,0,0,0, 0,0,1.0,3.0, 0.6,0,0,0.4, 0.3,0.6,0.9,0.5, 1.0,2.1,0.7,1.3, 0.8,0.5,1.4,0.9, 2.6,1.2,3.5,4.5, 7.0,10.5,2.5,1.1, 0.7],
[0,0,0,0.9, 0,0,0,0, 0,0,0,0, 0,0,0,0, 0,0,0,0, 0,0,0,0, 0,0,0,0, 0,0,0,0, 0,0,0,0, 0,0,0,0.5, 0.8,1.5,6.5,13.6, 11.7,6.4,17.1,14.7, 10.9,3.2,3.5,6.5, 3.0,1.6,0.9,1.4, 0.8,0.5,1.2,0.7, 0.4],
[0,0,0,4.2, 0,0,0,0, 0,0,0,0, 0,0,0,0, 0,0,0,0, 0,0,0,0, 0,0,0,0, 0,0,0,0, 0,0,0,0, 0,0,0,0.8, 0.4,0.9,2.0,1.2, 2.8,1.3,4.2,8.0, 3.0,1.2,0.7,0.9, 0.6,1.4,0.9,0.5, 1.3,0.6,3.2,1.4, 0.6],
[0,0,0,0.6, 0,0,0,0, 0,0,0,0, 0,0,0,0, 0,0,1.0,3.2, 0.3,0,0,0, 0,0,0,0, 0,0,0,0, 0,0,0,0, 0,0,0,0, 0,0.3,0.6,0.9, 0.6,1.4,0.8,0.5, 1.0,0.6,0.9,1.5, 0.8,0.5,2.8,6.0, 15.4,15.5,4.8,1.6, 0.6],
[0,0,0,1.4, 0,0,0,0, 0,0,0,0, 0,0,0,0, 0,0,0,0, 0,0,0,0, 0,0,0,0, 0,0,0,0, 0,0,0,0, 0,0,0,1.5, 0.6,0.9,1.5,2.2, 4.4,3.0,1.6,0.8, 1.2,2.6,0.9,0.6, 0.5,0.8,1.2,2.0, 0.9,0.5,0.7,1.6, 0.8],
[0,0,0,0.8, 0,0,0,0, 0,0,0,0, 0,0,0,0, 0,0,0,0, 0,0,0,0, 0,0,0,0, 0,0,0,0, 0,0,0,0, 0,0,0,0, 0,0.4,0.7,0.9, 0.6,1.5,0.9,0.7, 1.3,0.8,2.0,5.5, 28.5,6.0,1.5,0.8, 0.6,0.4,0.9,0.5, 0.3],
[0,0,0,2.9, 0,0,0,0, 0,0,0,0, 0,0,0,0, 0,0,0,0, 0,0,0,0, 0,0,0,0, 0,0,0,0, 0,0,0,0, 0,0,0,0.4, 0.3,0.8,0.5,1.1, 1.5,0.7,1.2,0.9, 0.6,1.3,0.8,0.5, 1.1,0.7,0.4,0.9, 1.6,2.0,0.8,3.5, 1.2],
[0,0,0,3.1, 0,0,0,0, 0,0,0,0, 0,0,0,0, 0,0,0,0, 0,0,0,0, 0,0,0,0, 0,0,0,0, 0,0,0,1.2, 0,0,0.5,3.0, 1.0,4.8,1.5,0.8, 1.2,0.8,2.2,1.0, 2.5,1.6,3.2,15.4, 3.5,1.0,0.6,0.9, 0.5,0.8,0.4,0.6, 0.3],
[0,0,0,0.7, 0,0,0,0, 0,0,0,0, 0,0,0,0, 0,0,0,0, 0,0,0,0, 0,0,0,0, 0,0,0,0, 0,0,0,0, 0,0,0,0.6, 0.3,0.5,0.9,0.6, 1.2,0.8,1.6,0.9, 0.7,1.1,0.6,1.4, 0.9,0.5,1.2,0.8, 0.6,1.0,5.2,1.8, 0.6],
[0,0,0,6.0, 0,0,0,0, 0,0,0,0, 0,0,0,0, 0,0,0,0, 0,0,0,0, 0,0,0,0, 0.6,0,0,0, 0,0,0,0, 0,0,0,0.5, 0.3,0.6,1.0,0.7, 1.3,2.0,3.5,5.0, 2.0,1.0,0.6,0.9, 0.7,0.5,1.8,1.1, 0.8,0.5,0.7,1.2, 0.5],
[0,0,0,1.0, 0,0,0,0, 0,0,0,0, 0,0,0,0, 0,0,0,0, 0,0,0,0, 0,0,0,0, 0,0,0,0.2, 6.9,0,0,0, 0,0,0,0.9, 0.4,0.7,0.5,1.2, 0.8,1.6,1.0,2.4, 0.9,0.6,1.3,0.8, 0.5,1.2,0.7,0.4, 0.6,0.9,0.5,0.8, 0.3],
[0,0,0,4.8, 0,0,0,0, 0,0,0,0, 0,0,0,0, 0,0,0,0, 0,0,0,0, 0,0,0,0, 0,0,0,0, 0,0,0,0, 0,0,0,0, 0,0.4,0.6,0.9, 0.7,1.2,0.5,0.9, 1.6,0.8,0.5,0.7, 0.9,2.2,1.0,3.8, 1.5,0.7,0.9,0.5, 0.4],
[0,0,0,0.4, 0,0,0,0, 0,0,0,0, 0,0,0,0, 0,0,0,0, 0,0,0,0, 0,0,0,0, 0,0,0,0, 0,0,0,0, 0,0,0,0.7, 0.3,0.6,0.8,0.5, 0.9,1.2,0.6,1.5, 0.8,0.5,1.0,0.7, 0.5,0.9,0.6,1.3, 0.8,1.4,0.6,2.5, 2.0],
[0,0,0,2.3, 0,0,0,0, 0,0,0,0, 0,0,0,0, 0,0,0,0, 0,0,0,0, 0,0,0,0, 0,0,0,0, 0,0,0,0, 0,0,0,1.2, 0.6,0.4,0.9,1.4, 0.8,1.0,1.9,0.7, 1.2,0.7,0.5,0.9, 1.8,0.8,0.5,1.2, 0.6,0.4,1.0,0.7, 0.5],
[0,0,0,1.5, 0,0,0,0, 0,0,0,0, 0,0,0,0, 0,0,0,0, 0,0,0,0, 0,0,0,0, 0,0,0,0, 0,0,0,0, 0,0,0,0.6, 0.3,0.5,0.7,1.0, 0.6,1.1,0.8,0.5, 0.9,1.4,0.6,0.8, 0.7,0.5,1.0,0.6, 0.9,0.6,2.8,6.0, 11.3]
];

// ---------------- sanity ----------------
[['t850',t850,32],['t500',t500,32],['prec',prec,61]].forEach(([n,a,L])=>{
  if(a.length!==50) throw new Error(n+' has '+a.length+' members');
  a.forEach((r,i)=>{ if(r.length!==L) throw new Error(n+' member '+(i+1)+' length '+r.length); });
});
[mean850,ctrl850,mean500,ctrl500,meanPr,ctrlPr].forEach((a,i)=>{ if(a.length!==61) throw new Error('series '+i+' length '+a.length); });

// ---------------- PLOT ----------------
const FONT = 'DejaVu Sans Mono, Liberation Mono, monospace';
const traces = [];
for (let m = 0; m < 50; m++) {
  const c = memberColors[m];
  const base = {type:'scatter', mode:'lines+markers', showlegend:false, hoverinfo:'skip',
    line:{color:c, width:1}, marker:{symbol:'cross-thin', size:4, color:c, line:{color:c, width:1}}};
  traces.push(Object.assign({}, base, {x:tT, y:t850[m], yaxis:'y'}));
  traces.push(Object.assign({}, base, {x:tT, y:t500[m], yaxis:'y'}));
  traces.push(Object.assign({}, base, {x:tP, y:prec[m], yaxis:'y2'}));
}
const ctl = {type:'scatter', mode:'lines', showlegend:false, hoverinfo:'skip', line:{color:'#000000', width:3}};
traces.push(Object.assign({}, ctl, {x:tP, y:ctrl850, yaxis:'y'}));
traces.push(Object.assign({}, ctl, {x:tP, y:ctrl500, yaxis:'y'}));
traces.push(Object.assign({}, ctl, {x:tP, y:ctrlPr, yaxis:'y2'}));
const mn = {type:'scatter', mode:'lines', showlegend:false, hoverinfo:'skip', line:{color:'#ff0000', width:4}};
traces.push(Object.assign({}, mn, {x:tP, y:mean850, yaxis:'y'}));
traces.push(Object.assign({}, mn, {x:tP, y:mean500, yaxis:'y'}));
traces.push(Object.assign({}, mn, {x:tP, y:meanPr, yaxis:'y2'}));

// pixel helpers for decorations (plot area: x 51..691, y 0..600)
const PX = px => (px - 51) / 640;
const PY = py => (600 - py) / 600;

const shapes = [];
[30,20,10,-10,-20,-30,-40].forEach(v => shapes.push({type:'line', xref:'paper', yref:'y', x0:0, x1:1, y0:v, y1:v, layer:'below', line:{color:'#c0c0c0', width:2}}));
shapes.push({type:'line', xref:'paper', yref:'y', x0:0, x1:1, y0:0, y1:0, layer:'below', line:{color:'#8c8c8c', width:3}});
shapes.push({type:'line', xref:'paper', yref:'y', x0:0, x1:1, y0:0, y1:0, layer:'below', line:{color:'#c8c8c8', width:1}});
shapes.push({type:'line', xref:'paper', yref:'paper', x0:0, x1:1, y0:0, y1:0, line:{color:'#000000', width:2}});
shapes.push({type:'line', xref:'paper', yref:'paper', x0:PX(35), x1:PX(65), y0:PY(639.5), y1:PY(639.5), line:{color:'#ff0000', width:4}});
shapes.push({type:'line', xref:'paper', yref:'paper', x0:PX(225), x1:PX(255), y0:PY(639.5), y1:PY(639.5), line:{color:'#000000', width:4}});
for (let i = 0; i < 25; i++) {
  const x0 = 429 + i * 10.9;
  shapes.push({type:'rect', xref:'paper', yref:'paper', x0:PX(x0), x1:PX(x0+10), y0:PY(645), y1:PY(650.5), line:{width:0}, fillcolor:memberColors[i]});
  shapes.push({type:'rect', xref:'paper', yref:'paper', x0:PX(x0), x1:PX(x0+10), y0:PY(650.5), y1:PY(656.5), line:{width:0}, fillcolor:memberColors[i+25]});
}
shapes.push({type:'rect', xref:'paper', yref:'paper', x0:PX(20), x1:PX(440), y0:PY(667), y1:PY(699), line:{color:'#000', width:1.5}, fillcolor:'rgba(0,0,0,0)'});

const ann = [];
function txt(text, px, py, size, opts) {
  ann.push(Object.assign({text:text, xref:'paper', yref:'paper', x:PX(px), y:PY(py), xanchor:'left', yanchor:'middle',
    showarrow:false, font:{family:FONT, size:size, color:'#000'}}, opts || {}));
}
// date labels on the time axis (rotated, reading upward, just below the axis)
dateLabels.forEach((d, i) => ann.push({text:d, xref:'x', yref:'paper', x:dateHours[i], y:PY(617), xanchor:'center', yanchor:'middle',
  textangle:-90, xshift:7, showarrow:false, font:{family:FONT, size:10, color:'#000'}}));
txt('Temp. 850hPa', 59, 73, 10);
txt('Temp. 500hPa', 59, 290, 10);
txt('Précipitations', 59, 484, 10);
txt('(°C)', 32, 607, 10, {xanchor:'center'});
txt('(mm)', 721, 607, 10, {xanchor:'center'});
txt('Moyenne des scénarios', 74, 639.5, 10);
txt('Contrôle/Det', 264, 639.5, 10);
txt('50 Perts.', 368, 652, 10);
for (let i = 0; i < 25; i++) {
  const cx = 429 + i * 10.9 + 5;
  txt('<b>' + String(i+1).padStart(2,'0') + '</b>', cx, 639.5, 8, {xanchor:'center'});
  txt('<b>' + String(i+26) + '</b>', cx, 661.5, 8, {xanchor:'center'});
}
txt('<b>Diagramme ensembles ECMWF/CEP 0.25° sur 360h : 47.2N 8.3E</b>', 29, 677, 11.5);
txt('Températures 850hPa et 500hPa (°C) , précipitations (mm)', 29, 692, 10);
txt('Ensemble ECMWF/CEP du 19/06/2026 - 00Z', 449, 676, 10);
txt('<b>Copyright 2026 Meteociel.fr - ECMWF</b>', 449, 692, 11.5);

const NB = '\u00a0';
const layout = {
  width:740, height:700, autosize:false,
  margin:{l:51, r:49, t:0, b:100, pad:0},
  paper_bgcolor:'#ffffff', plot_bgcolor:'#ffffff',
  showlegend:false,
  xaxis:{range:[0,360], tickmode:'array', tickvals:dateHours, showticklabels:false,
    showgrid:true, gridcolor:'#c0c0c0', gridwidth:1, zeroline:false,
    showline:false, ticks:'', fixedrange:true},
  yaxis:{range:[-52.714, 33.0], tickmode:'array', tickvals:leftTicks.map(Number),
    ticktext:leftTicks.map(s => s + NB.repeat(3 - s.length)),
    showgrid:true, gridcolor:'#c0c0c0', gridwidth:1, zeroline:false, showline:false,
    ticks:'outside', ticklen:11, tickcolor:'rgba(0,0,0,0)',
    tickfont:{family:FONT, size:10, color:'#000'}, fixedrange:true},
  yaxis2:{range:[-7.714, 78.0], overlaying:'y', side:'right', tickmode:'array', tickvals:rightTicks.map(Number), ticktext:rightTicks,
    showgrid:false, zeroline:false, showline:false,
    ticks:'outside', ticklen:16, tickcolor:'rgba(0,0,0,0)',
    tickfont:{family:FONT, size:10, color:'#000'}, fixedrange:true},
  shapes:shapes,
  annotations:ann
};
Plotly.newPlot('chart', traces, layout, {staticPlot:true, displayModeBar:false});
</script>
</body></html>
